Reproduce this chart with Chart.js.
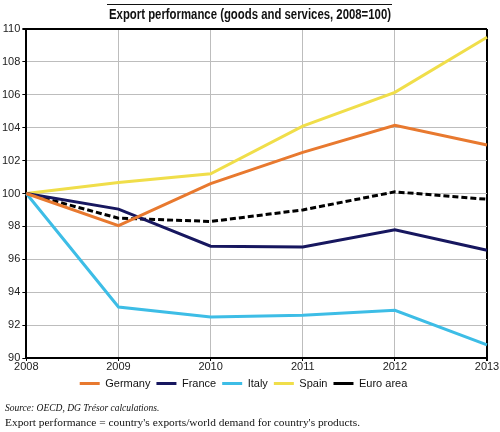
<!DOCTYPE html>
<html>
<head>
<meta charset="utf-8">
<script src="https://cdn.jsdelivr.net/npm/chart.js@4"></script>
<style>
  html, body { margin: 0; padding: 0; background: #fff; }
  #wrap { width: 500px; height: 432px; position: relative; }
</style>
</head>
<body>
<div id="wrap"><canvas id="myChart" width="500" height="432"></canvas></div>
<script>
// annees + series
const years = ['2008', '2009', '2010', '2011', '2012', '2013'];
const germany = [100, 98.05, 100.6, 102.5, 104.15, 102.95];
const france = [100, 99.05, 96.8, 96.75, 97.8, 96.55];
const italy = [100, 93.1, 92.5, 92.6, 92.9, 90.8];
const spain = [100, 100.67, 101.2, 104.1, 106.15, 109.5];
const euroArea = [100, 98.5, 98.3, 99.0, 100.1, 99.65];

const titleText = 'Export performance (goods and services, 2008=100)';
const sourceText = 'Source: OECD, DG Trésor calculations.';
const noteText = "Export performance = country's exports/world demand for country's products.";

// titre (police etroite simulee), trait au-dessus, notes en bas
const extras = {
    id: 'extras',
    afterDraw(chart) {
        const c = chart.ctx;
        c.save();
        c.fillStyle = '#111';
        c.textBaseline = 'alphabetic';
        c.font = 'italic 9.5px "Liberation Serif", "DejaVu Serif", serif';
        c.fillText(sourceText, 5, 411);
        c.font = '11.4px "Liberation Serif", "DejaVu Serif", serif';
        c.fillText(noteText, 5, 426);

        c.font = 'bold 14px Arial, "Liberation Sans", sans-serif';
        const w = c.measureText(titleText).width;
        const sx = 282 / w;
        c.save();
        c.translate(250, 19);
        c.scale(sx, 1);
        c.textAlign = 'center';
        c.fillText(titleText, 0, 0);
        c.restore();

        c.strokeStyle = '#111';
        c.lineWidth = 1;
        c.beginPath();
        c.moveTo(107, 4.5);
        c.lineTo(392, 4.5);
        c.stroke();
        c.restore();
    }
};

let ctx = document.getElementById('myChart').getContext('2d');

const lineChart = new Chart(ctx, {
    type: 'line',
    data: {
        labels: years,
        datasets: [
            { label: 'Germany', data: germany, borderColor: '#E8792F', backgroundColor: '#E8792F' },
            { label: 'France', data: france, borderColor: '#17175F', backgroundColor: '#17175F' },
            { label: 'Italy', data: italy, borderColor: '#3DBDE6', backgroundColor: '#3DBDE6' },
            { label: 'Spain', data: spain, borderColor: '#F0DE4A', backgroundColor: '#F0DE4A' },
            { label: 'Euro area', data: euroArea, borderColor: '#000', backgroundColor: '#000', borderDash: [6, 3] }
        ].map(d => Object.assign({ borderWidth: 3, pointRadius: 0, tension: 0 }, d))
    },
    options: {
        responsive: false,
        animation: false,
        layout: { padding: { left: 0, right: 13, top: 29, bottom: 33 } },
        scales: {
            x: {
                offset: false,
                grid: {
                    offset: false,
                    color: c => c.index === years.length - 1 ? '#000' : '#bdbdbd',
                    lineWidth: c => c.index === years.length - 1 ? 2 : 1,
                    tickColor: '#000',
                    tickLength: 3
                },
                border: { color: '#000', width: 2 },
                ticks: { color: '#222', font: { family: 'Arial, "Liberation Sans", sans-serif', size: 11, lineHeight: 1 }, maxRotation: 0, padding: 0 }
            },
            y: {
                min: 90,
                max: 110,
                grid: {
                    color: c => c.tick.value === 110 ? '#000' : '#bdbdbd',
                    lineWidth: c => c.tick.value === 110 ? 2 : 1,
                    tickColor: '#000',
                    tickLength: 4
                },
                border: { color: '#000', width: 2 },
                ticks: { stepSize: 2, color: '#222', font: { family: 'Arial, "Liberation Sans", sans-serif', size: 11 }, padding: 2 }
            }
        },
        plugins: {
            title: { display: false },
            legend: {
                position: 'bottom',
                labels: {
                    usePointStyle: true,
                    pointStyle: 'line',
                    pointStyleWidth: 20,
                    color: '#111',
                    padding: 6,
                    font: { family: 'Arial, "Liberation Sans", sans-serif', size: 11 }
                }
            },
            tooltip: { enabled: false }
        }
    },
    plugins: [extras]
});
</script>
</body>
</html>
